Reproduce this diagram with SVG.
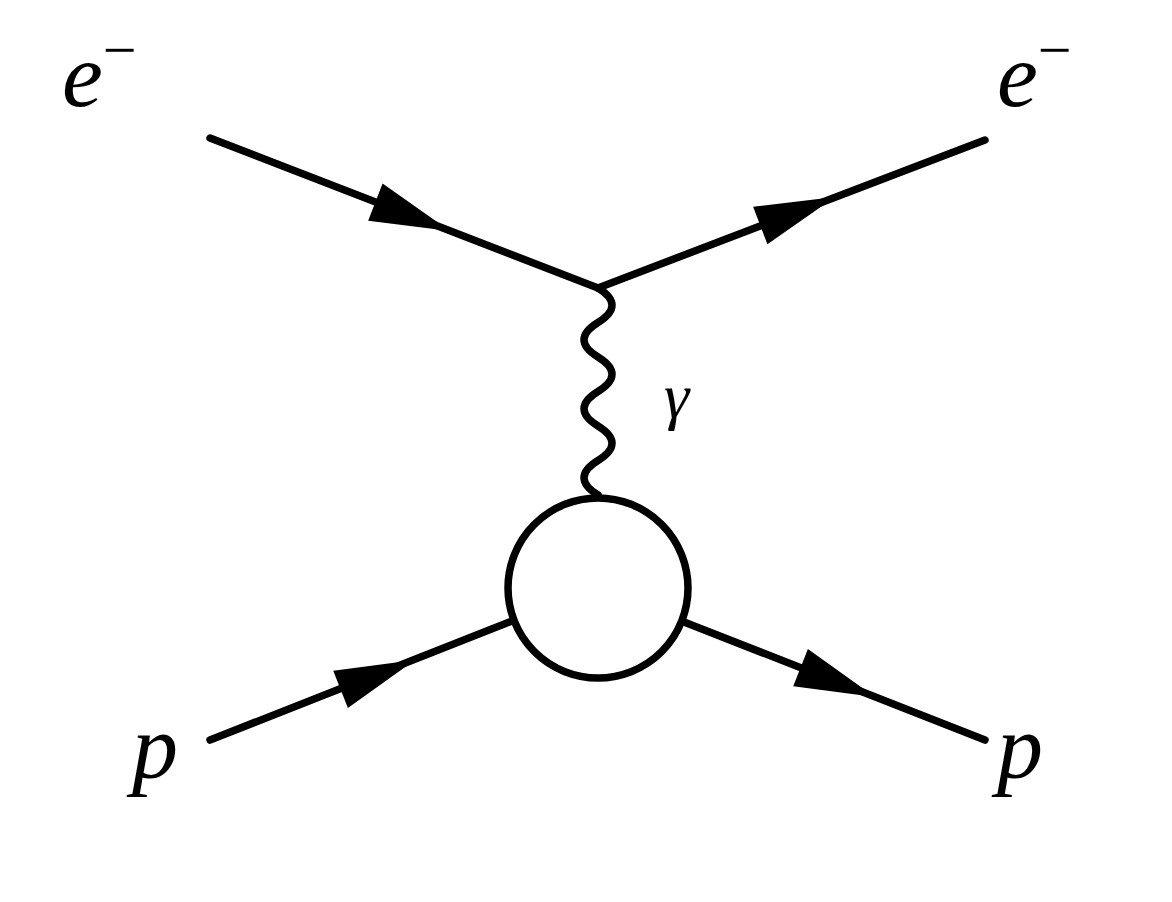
<svg xmlns="http://www.w3.org/2000/svg" width="1172" height="902" viewBox="0 0 1172 902">
<style>
.l{stroke:#000;stroke-width:7.5;fill:none;stroke-linecap:round}
text{font-family:'Liberation Serif','DejaVu Serif',serif;font-style:italic;fill:#000}
</style>
<defs><polygon id="ah" points="0,0 -80,-20 -80,20"/></defs>
<rect width="1172" height="902" fill="#fff"/>
<g id="connectors">
<line class="l" x1="210" y1="138" x2="598" y2="288"/>
<line class="l" x1="598" y1="288" x2="985" y2="140"/>
<line class="l" x1="210" y1="740" x2="512" y2="621"/>
<line class="l" x1="684" y1="622" x2="985" y2="740"/>
<path class="l" d="M598,288 q28,17.25 0,34.5 q-28,17.25 0,34.5 q28,17.25 0,34.5 q-28,17.25 0,34.5 q28,17.25 0,34.5 q-28,17.25 0,34.5"/>
<use href="#ah" transform="translate(450,231) rotate(21.1)"/>
<use href="#ah" transform="translate(835,197) rotate(-20.9)"/>
<use href="#ah" transform="translate(415,660) rotate(-21.5)"/>
<use href="#ah" transform="translate(875,697) rotate(21.5)"/>
</g>
<g id="blob"><circle cx="598" cy="588" r="90" fill="#fff" stroke="#000" stroke-width="7.5"/></g>
<g id="labels">
<text x="62" y="106" font-size="92">e<tspan font-style="normal" font-size="60" dy="-36">−</tspan></text>
<text x="997" y="106" font-size="92">e<tspan font-style="normal" font-size="60" dy="-36">−</tspan></text>
<text x="132" y="778" font-size="92">p</text>
<text x="997" y="778" font-size="92">p</text>
<text x="664" y="417" font-size="64">γ</text>
</g>
</svg>
